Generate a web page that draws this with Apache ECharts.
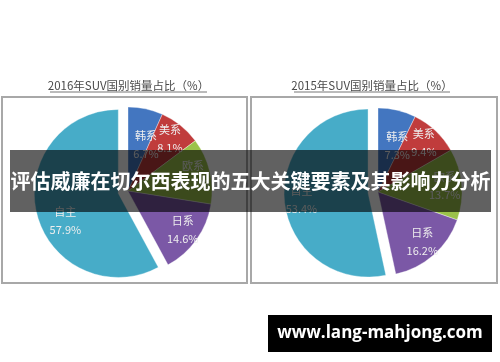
<!DOCTYPE html>
<html><head><meta charset="utf-8">
<script src="https://cdn.jsdelivr.net/npm/echarts@6/dist/echarts.min.js"></script>
<style>html,body{margin:0;padding:0;background:#fff}#c{width:500px;height:362px}</style>
</head><body><div id="c"></div>
<script>
var categories = ['韩系', '美系', '欧系', '日系', '自主'];
var share2016 = [6.7, 8.1, 12.7, 14.6, 57.9];
var share2015 = [7.3, 9.4, 13.7, 16.2, 53.4];
var titles = ['2016年SUV国别销量占比（%）', '2015年SUV国别销量占比（%）'];
var bannerText = '评估威廉在切尔西表现的五大关键要素及其影响力分析';
var siteText = 'www.lang-mahjong.com';

var colors = ['#4376C0', '#C03C3C', '#9BC24A', '#7B58A6', '#47ACC8'];
var R = 84;
// label nudges (styling only)
var nudges2016 = { '韩系': [4, 19], '自主': [12, 11] };
var nudges2015 = { '韩系': [4, 19] };
function mk(vals) {
  return categories.map(function (n, i) {
    return { name: n, value: vals[i], selected: n === '自主' };
  });
}
function pie(vals, center, visible, nudges) {
  return {
    type: 'pie', center: center, radius: visible ? [0, R] : [44, R],
    startAngle: 90, clockwise: true, selectedMode: 'single', selectedOffset: 10,
    silent: true, animation: false, emphasis: { disabled: true },
    avoidLabelOverlap: false,
    itemStyle: visible ? { borderColor: 'rgba(255,255,255,0.6)', borderWidth: 0.6 } :
      { color: 'rgba(0,0,0,0)', borderWidth: 0 },
    color: colors,
    label: visible ? { show: false } : {
      show: true, position: 'inside', color: '#eeeeee', fontSize: 11, lineHeight: 18,
      fontFamily: 'Noto Sans CJK SC',
      formatter: function (p) { return p.name + '\n' + p.value.toFixed(1) + '%'; }
    },
    labelLayout: visible ? undefined : function (p) {
      var o = nudges[categories[p.dataIndex]];
      return o ? { dx: o[0], dy: o[1] } : {};
    },
    labelLine: { show: false },
    data: mk(vals)
  };
}
var chart = echarts.init(document.getElementById('c'), null, { renderer: 'canvas' });
chart.setOption({
  animation: false,
  series: [
    pie(share2016, [128, 191], true), pie(share2016, [128, 191], false, nudges2016),
    pie(share2015, [378, 192], true), pie(share2015, [378, 192], false, nudges2015)
  ],
  graphic: [
    { type: 'rect', z: -10, shape: { x: 2, y: 97, width: 245, height: 186 }, style: { fill: 'none', stroke: '#a8a8a8', lineWidth: 2 } },
    { type: 'rect', z: -10, shape: { x: 251, y: 97, width: 246, height: 186 }, style: { fill: 'none', stroke: '#a8a8a8', lineWidth: 2 } },
    { type: 'text', x: 128.5, y: 86, style: { text: titles[0], align: 'center', verticalAlign: 'middle', fill: '#4a4a4a', font: '11.5px "Noto Sans CJK SC"' } },
    { type: 'text', x: 372, y: 86, style: { text: titles[1], align: 'center', verticalAlign: 'middle', fill: '#4a4a4a', font: '11.5px "Noto Sans CJK SC"' } },
    { type: 'line', shape: { x1: 50, y1: 92, x2: 207, y2: 92 }, style: { stroke: '#777', lineWidth: 1 } },
    { type: 'line', shape: { x1: 294, y1: 92, x2: 450, y2: 92 }, style: { stroke: '#777', lineWidth: 1 } },
    { type: 'rect', z: 100, shape: { x: 10, y: 150, width: 481, height: 62 }, style: { fill: 'rgba(0,0,0,0.62)' } },
    { type: 'text', z: 101, x: 250.5, y: 181, style: { text: bannerText, align: 'center', verticalAlign: 'middle', fill: '#fff', font: 'bold 20px "Noto Sans CJK SC"' } },
    { type: 'rect', z: 100, shape: { x: 268, y: 315, width: 224, height: 37 }, style: { fill: '#000' } },
    { type: 'text', z: 101, x: 380, y: 333.5, style: { text: siteText, align: 'center', verticalAlign: 'middle', fill: '#fff', font: 'bold 17px "Open Sans"' } }
  ]
});
</script></body></html>
